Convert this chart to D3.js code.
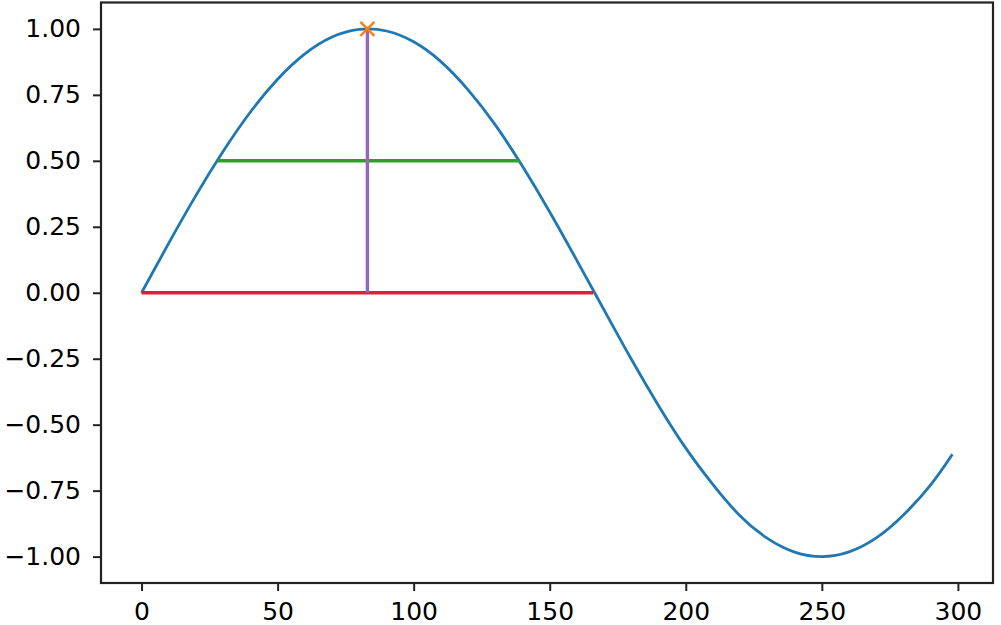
<!DOCTYPE html>
<html><head><meta charset="utf-8">
<script src="https://cdn.jsdelivr.net/npm/d3@7"></script>
<style>body{margin:0;background:#fff}svg{display:block}</style>
</head><body><svg id="c" width="1001" height="625"></svg>
<script>
const xs = [0,10,20,30,40,50,60,70,80,90,100,110,120,130,140,150,160,170,180,190,200,210,220,230,240,250,260,270,280,290,298];
const ys = [0,0.188,0.369,0.536,0.685,0.809,0.905,0.969,0.998,0.992,0.951,0.876,0.769,0.636,0.479,0.306,0.122,-0.066,-0.252,-0.428,-0.589,-0.727,-0.846,-0.931,-0.983,-1.0,-0.982,-0.929,-0.842,-0.728,-0.612];
const redLine = {x0:0, x1:166, y:0};
const greenLine = {x0:28, x1:139, y:0.5};
const purpleLine = {x:83, y0:0, y1:1};
const peak = {x:83, y:1};
const xTicks = [0,50,100,150,200,250,300];
const yTicks = [1,0.75,0.5,0.25,0,-0.25,-0.5,-0.75,-1];

const L=101, T=2.5, R=993, B=583;
const svg = d3.select('#c');
const x = d3.scaleLinear().domain([-14.9,312.9]).range([L,R]);
const y = d3.scaleLinear().domain([-1.1,1.1]).range([B,T]);
const fmt = v => (v<0?'\u2212':'') + Math.abs(v).toFixed(2);

const pts = xs.map((v,i)=>[v,ys[i]]);
const line = d3.line().x(d=>x(d[0])).y(d=>y(d[1])).curve(d3.curveNatural);
svg.append('path').attr('d', line(pts)).attr('fill','none').attr('stroke','#1f77b4').attr('stroke-width',2.8);

svg.append('line').attr('x1',x(redLine.x0)).attr('x2',x(redLine.x1)).attr('y1',y(redLine.y)).attr('y2',y(redLine.y)).attr('stroke','#d62728').attr('stroke-width',3.4);
svg.append('line').attr('x1',x(greenLine.x0)).attr('x2',x(greenLine.x1)).attr('y1',y(greenLine.y)).attr('y2',y(greenLine.y)).attr('stroke','#2ca02c').attr('stroke-width',3.4);
svg.append('line').attr('x1',x(purpleLine.x)).attr('x2',x(purpleLine.x)).attr('y1',y(purpleLine.y0)).attr('y2',y(purpleLine.y1)).attr('stroke','#9467bd').attr('stroke-width',3.4);
const s=7, px=x(peak.x), py=y(peak.y);
svg.append('path').attr('d',`M${px-s},${py-s}L${px+s},${py+s}M${px-s},${py+s}L${px+s},${py-s}`).attr('stroke','#ff7f0e').attr('stroke-width',2.4).attr('fill','none');

const xa = svg.append('g').attr('transform',`translate(0,${B})`).call(d3.axisBottom(x).tickValues(xTicks).tickSize(8).tickPadding(11).tickFormat(d3.format('d')));
const ya = svg.append('g').attr('transform',`translate(${L},0)`).call(d3.axisLeft(y).tickValues(yTicks).tickSize(8).tickPadding(12).tickFormat(fmt));
[xa,ya].forEach(g=>{g.select('.domain').remove();g.selectAll('line').attr('stroke','#222').attr('stroke-width',2);g.selectAll('text').attr('font-family','DejaVu Sans').attr('font-size',25).attr('fill','#000');});
svg.append('rect').attr('x',L).attr('y',T).attr('width',R-L).attr('height',B-T).attr('fill','none').attr('stroke','#222').attr('stroke-width',2.2);
</script></body></html>
